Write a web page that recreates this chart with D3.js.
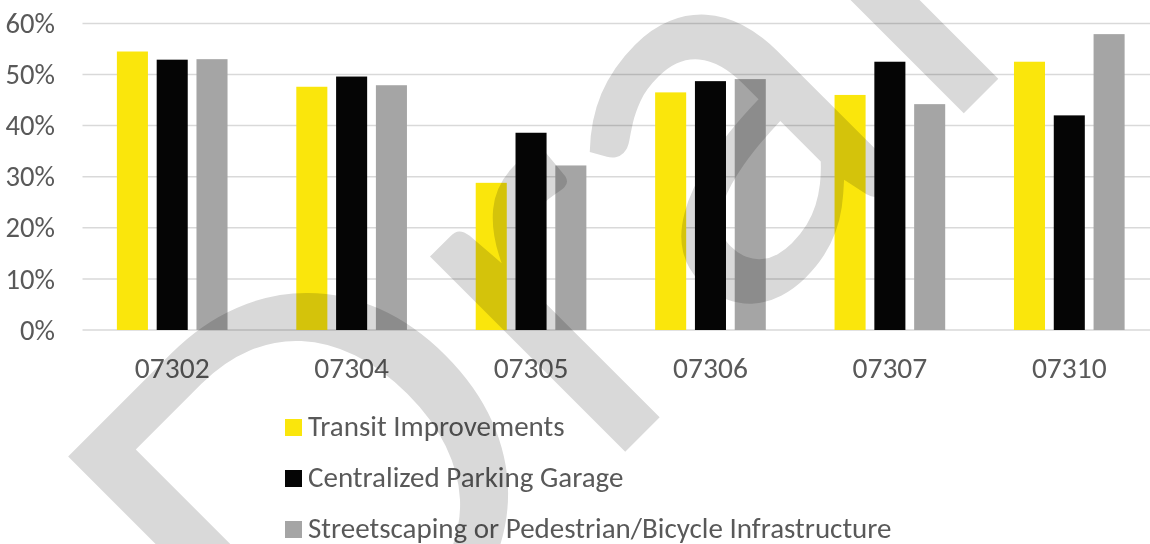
<!DOCTYPE html>
<html>
<head>
<meta charset="utf-8">
<script src="https://cdn.jsdelivr.net/npm/d3@7"></script>
<style>
  body { margin: 0; background: #fff; }
  svg text { font-family: Carlito, Calibri, Lato, sans-serif; }
</style>
</head>
<body>
<div id="chart-area"></div>
<script>
// zip codes and survey shares
var categories = ["07302", "07304", "07305", "07306", "07307", "07310"];
var seriesNames = ["Transit Improvements", "Centralized Parking Garage", "Streetscaping or Pedestrian/Bicycle Infrastructure"];
var transit = [0.545, 0.476, 0.288, 0.465, 0.460, 0.525];
var parking = [0.529, 0.496, 0.386, 0.487, 0.525, 0.420];
var streets = [0.530, 0.479, 0.322, 0.491, 0.442, 0.579];
var yTicks = [0, 0.1, 0.2, 0.3, 0.4, 0.5, 0.6];
var colors = ["#fae60c", "#050505", "#a5a5a5"];

var width = 1150, height = 544;

var svg = d3.select("#chart-area")
    .append("svg")
    .attr("width", width)
    .attr("height", height);

var y = d3.scaleLinear().domain([0, 0.6]).range([330, 23.4]);
var x0 = d3.scaleBand().domain(categories).range([82.5, 1159]);
var x1 = d3.scaleBand().domain(seriesNames).range([0, x0.bandwidth()])
    .paddingInner(0.22).paddingOuter(0.864);

// gridlines
svg.append("g")
    .selectAll("line").data(yTicks).enter()
    .append("line")
        .attr("x1", 82.5).attr("x2", 1159)
        .attr("y1", d => y(d)).attr("y2", d => y(d))
        .attr("stroke", "#d9d9d9")
        .attr("stroke-width", 1.5);

// y tick labels
var yAxis = svg.append("g")
    .attr("transform", "translate(55,0)")
    .call(d3.axisLeft(y).tickValues(yTicks).tickFormat(d3.format(".0%")).tickSize(0).tickPadding(0));
yAxis.select(".domain").remove();
yAxis.selectAll("text")
    .attr("fill", "#595959")
    .style("font-size", "28.6px");

// bars
var rows = categories.map((c, i) => ({ cat: c, vals: [transit[i], parking[i], streets[i]] }));
var groups = svg.append("g").selectAll("g").data(rows).enter()
    .append("g")
        .attr("transform", d => "translate(" + x0(d.cat) + ",0)");
groups.selectAll("rect")
    .data(d => d.vals.map((v, j) => ({ name: seriesNames[j], v: v, j: j })))
    .enter()
    .append("rect")
        .attr("x", d => x1(d.name))
        .attr("width", x1.bandwidth())
        .attr("y", d => y(d.v))
        .attr("height", d => y(0) - y(d.v))
        .attr("fill", d => colors[d.j]);

// category labels
var xAxis = svg.append("g")
    .attr("transform", "translate(0,378)")
    .call(d3.axisBottom(x0).tickSize(0).tickPadding(0));
xAxis.select(".domain").remove();
xAxis.selectAll("text")
    .attr("fill", "#595959")
    .attr("dy", 0)
    .style("font-size", "29.5px");

// legend
var legend = svg.append("g").selectAll("g").data(seriesNames).enter()
    .append("g")
        .attr("transform", (d, i) => "translate(285," + (436 + i * 51) + ")");
legend.append("rect")
    .attr("x", 0).attr("y", -17)
    .attr("width", 17).attr("height", 17)
    .attr("fill", (d, i) => colors[i]);
legend.append("text")
    .attr("x", 23)
    .attr("fill", "#595959")
    .style("font-size", "29px")
    .text(d => d);

// watermark
svg.append("text")
    .attr("transform", "translate(309,768) rotate(-45)")
    .style("font-family", "Lato, sans-serif")
    .style("font-size", "545px")
    .style("mix-blend-mode", "multiply")
    .attr("fill", "#d9d9d9")
    .text("Draft");
</script>
</body>
</html>
